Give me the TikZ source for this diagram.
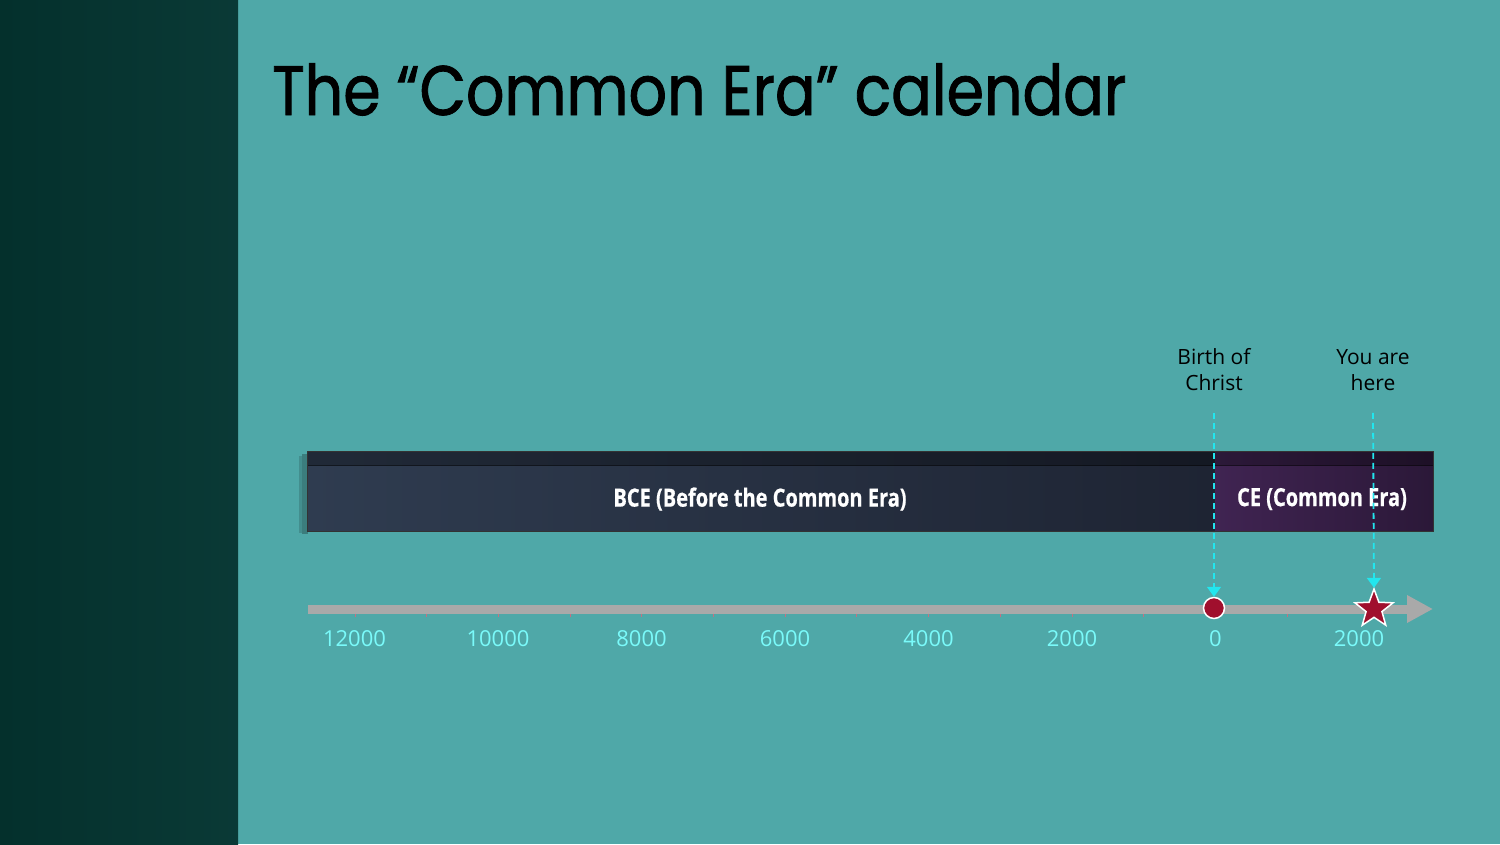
\documentclass[tikz,border=0pt]{standalone}
\usepackage{fontspec}
\usepackage{tikz}
\usetikzlibrary{calc}
\usetikzlibrary{arrows.meta}
\usetikzlibrary{shapes.geometric}
\usetikzlibrary{positioning}
\setmainfont{Open Sans}
\newfontfamily\titlefont{Poppins}[FakeStretch=0.86, FakeBold=1.2]
\newfontfamily\barfont{Open Sans}[FakeStretch=0.8, FakeBold=0.6]
\definecolor{teal bg}{HTML}{4FA8A8}
\definecolor{panel}{HTML}{04302C}
\definecolor{bce dark}{HTML}{1E2433}
\definecolor{bce light}{HTML}{2F3C50}
\definecolor{ce dark}{HTML}{2B1838}
\definecolor{ce light}{HTML}{402452}
\definecolor{axis gray}{HTML}{A9A9A9}
\definecolor{tick cyan}{HTML}{7AFAFA}
\definecolor{dash cyan}{HTML}{22E6EE}
\definecolor{marker red}{HTML}{A00F2D}
\tikzset{
	yearlabel/.style={text=tick cyan, font=\fontsize{22}{24}\selectfont, inner sep=0pt},
	eventlabel/.style={text=black, font=\fontsize{21}{26}\selectfont, align=center, inner sep=0pt},
	eralabel/.style={text=white, font=\barfont\bfseries\fontsize{25}{28}\selectfont, inner sep=0pt},
	pointer/.style={dash cyan, line width=1.8pt, dash pattern=on 6pt off 4pt, -{Triangle[width=14pt,length=10pt]}},
}

\begin{document}
\begin{tikzpicture}[x=1pt,y=-1pt]
	\useasboundingbox (0,0) rectangle (1500,844);
	\fill[teal bg] (0,0) rectangle (1500,844);
	\shade[left color=panel, right color=panel!92!teal bg] (0,0) rectangle (238,844);
	% title
	\node[anchor=base west, inner sep=0pt, font=\titlefont\fontsize{70}{76}\selectfont] (title) at (272,115) {The “Common Era” calendar};
	% era bars
	\fill[black, opacity=.25] (302,454) rectangle (308,534);
	\fill[black, opacity=.15] (299,456) rectangle (302,533);
	\shade[left color=bce light, right color=bce dark] (307,451) rectangle (1215,531);
	\shade[left color=ce light, right color=ce dark] (1215,451) rectangle (1433,531);
	\fill[black, opacity=.3] (307,451) rectangle (1433,465);
	\draw[black, opacity=.6] (307,465) -- (1433,465);
	\draw[black!80, line width=1pt] (307,451) rectangle (1433,531);
	\node[eralabel] (bce) at (760,499) {BCE (Before the Common Era)};
	\node[eralabel] (ce) at (1322,499) {CE (Common Era)};
	% time axis
	\coordinate (axis start) at (308,609);
	\coordinate (axis end) at (1433,609);
	\draw[axis gray, line width=9pt, -{Triangle[width=26pt,length=26pt]}] (axis start) -- (axis end);
	\foreach \k in {0,...,13}
		\draw[marker red!60, line width=1pt] ({355+71.7*\k},614) -- ++(0,3);
	\foreach \yr [count=\i from 0] in {12000,10000,8000,6000,4000,2000,0,2000}
		\node[yearlabel] (year\i) at ({354.5+143.5*\i},639) {\yr};
	% markers
	\node[circle, fill=marker red, draw=white, line width=1.5pt, minimum size=21pt, inner sep=0pt] (birth) at (1214,608) {};
	\node[star, star points=5, star point ratio=2.4, fill=marker red, draw=white, line width=1.5pt, minimum size=40pt, inner sep=0pt] (now) at (1374,609) {};
	\node[eventlabel] (birth text) at (1214,370) {Birth of\\Christ};
	\node[eventlabel] (now text) at (1373,370) {You are\\here};
	\draw[pointer] ($(birth text.south)+(0,22)$) -- (birth.north);
	\draw[pointer] ($(now text.south)+(0,22)$) -- ($(now.north)+(0,1)$);
\end{tikzpicture}
\end{document}
